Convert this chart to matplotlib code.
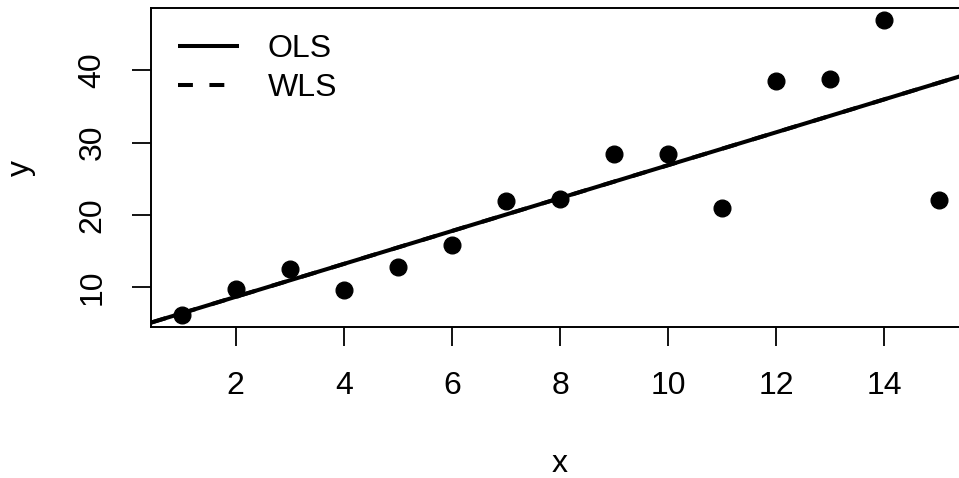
import numpy as np
import matplotlib
matplotlib.use("Agg")
import matplotlib.pyplot as plt

# Observations
x = np.arange(1, 16)
y = np.array([6.17, 9.77, 12.49, 9.63, 12.85, 15.80, 21.92, 22.20,
              28.45, 28.45, 20.91, 38.49, 38.77, 46.92, 22.02])
weights = np.ones_like(y)

x_ticks = [2, 4, 6, 8, 10, 12, 14]
y_ticks = [10, 20, 30, 40]

plt.rcParams["font.family"] = ["Liberation Sans", "DejaVu Sans"]
FS = 23

# Fits
ols_slope, ols_int = np.polyfit(x, y, 1)
wls_slope, wls_int = np.polyfit(x, y, 1, w=np.sqrt(weights))

fig = plt.figure(figsize=(9.59, 4.78), dpi=100)
ax = fig.add_axes([0.1578, 0.3163, 0.8524, 0.6665])

ax.plot(x, y, "o", color="black", markersize=12, zorder=3)

# R-style 4% padding of the data range
def padded(v):
    r = v.max() - v.min()
    return v.min() - 0.04 * r, v.max() + 0.04 * r

xlim = padded(x.astype(float))
ylim = padded(y)
ax.set_xlim(*xlim)
ax.set_ylim(*ylim)

xx = np.array(xlim)
ax.plot(xx, ols_int + ols_slope * xx, color="black", lw=2.9,
        solid_capstyle="butt", label="OLS", zorder=2)
ax.plot(xx, wls_int + wls_slope * xx, color="black", lw=2.9,
        linestyle=(0, (3.7, 4.1)), dash_capstyle="butt", label="WLS", zorder=2)

ax.set_xticks(x_ticks)
ax.set_yticks(y_ticks)
ax.tick_params(axis="both", direction="out", length=13.7, width=1.3,
               labelsize=FS, pad=18)
ax.tick_params(axis="y", labelrotation=90)
for lab in ax.get_yticklabels():
    lab.set_va("center")
for s in ax.spines.values():
    s.set_linewidth(1.4)

ax.set_xlabel("x", fontsize=FS, labelpad=35)
ax.set_ylabel("y", fontsize=FS, labelpad=30)

ax.legend(loc="upper left", bbox_to_anchor=(27 / 817.5, 0.9186),
          frameon=False, fontsize=FS, handlelength=1.9, handletextpad=0.9,
          labelspacing=0.28, borderpad=0, borderaxespad=0)

fig.savefig("out.png", dpi=100)
